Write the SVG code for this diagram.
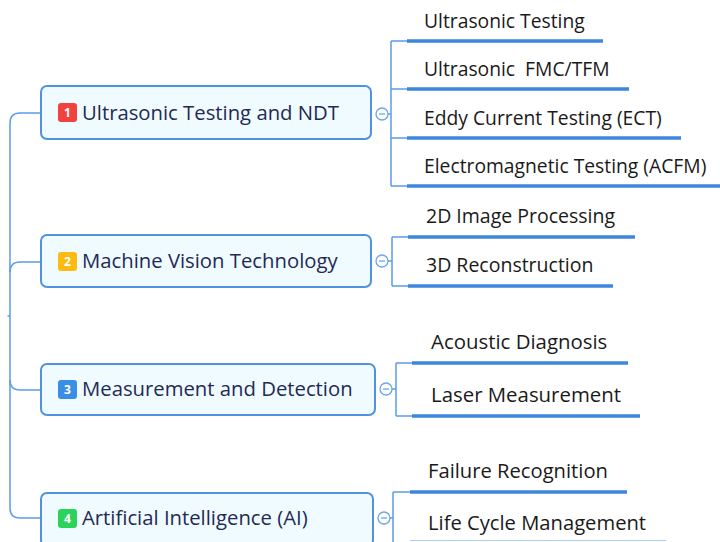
<svg xmlns="http://www.w3.org/2000/svg" width="720" height="542" viewBox="0 0 720 542">
<style>
.box{fill:#f0fbff;stroke:#4f92e0;stroke-width:2}
.t{font-family:"Open Sans","Noto Sans",sans-serif;font-size:20.3px;fill:#1f2a55}
.c{font-family:"Open Sans","Noto Sans",sans-serif;font-size:19.3px;fill:#1a1a1a}
.g2{font-size:19.5px}
.g3{font-size:20.4px}
.g4{font-size:20.2px}
.b{font-family:"Open Sans","Noto Sans",sans-serif;font-size:12px;font-weight:bold;fill:#fff}
.ln{fill:none;stroke:#5b9ceb;stroke-width:1.5}
.ul{stroke:#3d86dc;stroke-width:3.5}
.tog{fill:#fff;stroke:#6aa6ec;stroke-width:1.3}
.dash{stroke:#6aa6ec;stroke-width:1.3}
</style>
<g id="connectors">
  <path class="ln" d="M41,113 H20 Q10,113 10,123 V508 Q10,518 20,518 H41"/>
  <path class="ln" d="M10,272 Q10,262 20,262 H41"/>
  <path class="ln" d="M10,380 Q10,390 20,390 H41"/>
  <path class="ln" d="M7.5,316 H10"/>
  <path class="ln" d="M388,114 H391 M391,41 V186 M391,41 H407 M391,89 H407 M391,138 H407 M391,186 H407"/>
  <path class="ln" d="M388,261 H392 M392,237 V286 M392,237 H408 M392,286 H408"/>
  <path class="ln" d="M392,389 H396 M396,363 V416 M396,363 H412 M396,416 H412"/>
  <path class="ln" d="M390,518 H393 M393,492 V542 M393,492 H410"/>
</g>
<g id="node1">
  <rect class="box" x="41" y="86" width="330" height="53" rx="6"/>
  <rect x="58" y="103" width="19" height="19" rx="3" fill="#f0433f"/>
  <text class="b" x="67.5" y="117" text-anchor="middle">1</text>
  <text class="t" x="82" y="120">Ultrasonic Testing and NDT</text>
  <circle class="tog" cx="382" cy="114" r="6"/>
  <line class="dash" x1="379" y1="114" x2="385" y2="114"/>
</g>
<g id="node2">
  <rect class="box" x="41" y="235" width="330" height="52" rx="6"/>
  <rect x="58" y="252" width="19" height="19" rx="3" fill="#fdbb11"/>
  <text class="b" x="67.5" y="266" text-anchor="middle">2</text>
  <text class="t" x="82" y="268">Machine Vision Technology</text>
  <circle class="tog" cx="382" cy="261" r="6"/>
  <line class="dash" x1="379" y1="261" x2="385" y2="261"/>
</g>
<g id="node3">
  <rect class="box" x="41" y="364" width="334" height="51" rx="6"/>
  <rect x="58" y="380" width="19" height="19" rx="3" fill="#3a8ee6"/>
  <text class="b" x="67.5" y="394" text-anchor="middle">3</text>
  <text class="t" x="82" y="396">Measurement and Detection</text>
  <circle class="tog" cx="386" cy="389" r="6"/>
  <line class="dash" x1="383" y1="389" x2="389" y2="389"/>
</g>
<g id="node4">
  <rect class="box" x="41" y="493" width="332" height="53" rx="6"/>
  <rect x="58" y="509" width="19" height="19" rx="3" fill="#2bd35a"/>
  <text class="b" x="67.5" y="523" text-anchor="middle">4</text>
  <text class="t" x="82" y="525">Artificial Intelligence (AI)</text>
  <circle class="tog" cx="384" cy="518" r="6"/>
  <line class="dash" x1="381" y1="518" x2="387" y2="518"/>
</g>
<g id="c1a"><text class="c" x="424" y="28">Ultrasonic Testing</text><line class="ul" x1="407" y1="41" x2="603" y2="41"/></g>
<g id="c1b"><text class="c" x="424" y="76" xml:space="preserve">Ultrasonic  FMC/TFM</text><line class="ul" x1="407" y1="89" x2="629" y2="89"/></g>
<g id="c1c"><text class="c" x="424" y="125">Eddy Current Testing (ECT)</text><line class="ul" x1="407" y1="138" x2="681" y2="138"/></g>
<g id="c1d"><text class="c" x="424" y="173">Electromagnetic Testing (ACFM)</text><line class="ul" x1="407" y1="186" x2="720" y2="186"/></g>
<g id="c2a"><text class="c g2" x="426" y="223">2D Image Processing</text><line class="ul" x1="408" y1="237" x2="635" y2="237"/></g>
<g id="c2b"><text class="c g2" x="426" y="272">3D Reconstruction</text><line class="ul" x1="408" y1="286" x2="613" y2="286"/></g>
<g id="c3a"><text class="c g3" x="431" y="349">Acoustic Diagnosis</text><line class="ul" x1="412" y1="363" x2="628" y2="363"/></g>
<g id="c3b"><text class="c g3" x="431" y="402">Laser Measurement</text><line class="ul" x1="412" y1="416" x2="640" y2="416"/></g>
<g id="c4a"><text class="c g4" x="428" y="478">Failure Recognition</text><line class="ul" x1="410" y1="492" x2="627" y2="492"/></g>
<g id="c4b"><text class="c g4" x="428" y="530">Life Cycle Management</text><line stroke="#a9cdf5" stroke-width="1" x1="410" y1="540.5" x2="666" y2="540.5"/></g>
</svg>
